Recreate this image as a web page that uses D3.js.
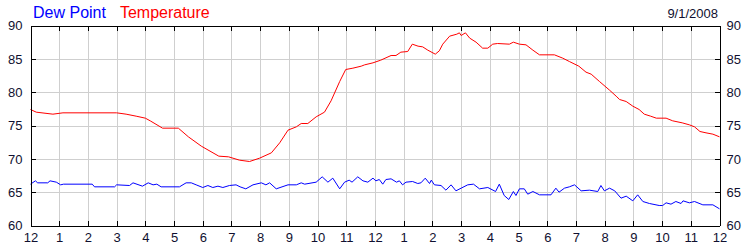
<!DOCTYPE html>
<html>
<head>
<meta charset="utf-8">
<script src="https://cdn.jsdelivr.net/npm/d3@7"></script>
<style>
  html, body { margin: 0; padding: 0; background: #fff; }
  svg { display: block; font-family: "Liberation Sans", Arial, sans-serif; }
  .grid line { stroke: #cfcfcf; shape-rendering: crispEdges; }
  .grid path { display: none; }
  .axis path, .axis line { stroke: #000; shape-rendering: crispEdges; }
  .axis text { fill: #101030; font-size: 13px; }
</style>
</head>
<body>
<div id="chart"></div>
<script>
(function () {
  const width = 750;
  const height = 250;

  const seriesNames = ["Dew Point", "Temperature"];
  const seriesColors = ["#0000ff", "#ff0000"];
  const dateLabel = "9/1/2008";

  const hourTicks = d3.range(0, 25);
  const hourLabels = ["12", "1", "2", "3", "4", "5", "6", "7", "8", "9", "10", "11",
    "12", "1", "2", "3", "4", "5", "6", "7", "8", "9", "10", "11", "12"];
  const valueTicks = [60, 65, 70, 75, 80, 85, 90];

  // hours since midnight
  const tempHours = [0, 0.2, 0.78, 1.13, 3.0, 3.33, 3.68, 4.0, 4.17, 4.6, 5.15, 5.5, 5.95, 6.56, 6.9,
    7.28, 7.63, 7.98, 8.39, 8.68, 8.97, 9.26, 9.43, 9.66, 9.95, 10.24, 10.47, 10.77, 10.98, 11.23,
    11.52, 11.64, 11.93, 12.2, 12.56, 12.73, 12.9, 13.14, 13.3, 13.5, 13.66, 13.84, 14.1, 14.24,
    14.36, 14.6, 14.85, 14.94, 15.0, 15.15, 15.3, 15.52, 15.75, 15.93, 16.1, 16.27, 16.68, 16.82,
    17.03, 17.26, 17.5, 17.73, 18.25, 18.54, 18.77, 19.1, 19.35, 19.53, 19.82, 20.17, 20.4, 20.52,
    20.75, 20.98, 21.2, 21.38, 21.6, 21.8, 22.14, 22.37, 22.7, 22.95, 23.13, 23.32, 23.53, 23.77, 24];
  const tempValues = [77.4, 77.0, 76.7, 76.9, 76.9, 76.7, 76.4, 76.1, 75.7, 74.6, 74.6, 73.3, 71.9, 70.4, 70.3,
    69.8, 69.6, 70.1, 70.9, 72.4, 74.3, 74.8, 75.3, 75.3, 76.3, 77.0, 78.7, 81.6, 83.4, 83.6,
    83.9, 84.1, 84.4, 84.8, 85.5, 85.5, 86.0, 86.1, 87.2, 86.9, 86.8, 86.3, 85.7, 86.2,
    87.2, 88.4, 88.7, 88.9, 88.5, 88.9, 88.1, 87.5, 86.6, 86.6, 87.2, 87.3, 87.2, 87.5,
    87.2, 87.1, 86.3, 85.6, 85.6, 85.1, 84.6, 83.9, 83.0, 82.7, 81.6, 80.3, 79.4, 78.9,
    78.6, 77.9, 77.4, 76.7, 76.4, 76.1, 76.1, 75.7, 75.4, 75.1, 74.8, 74.1, 73.9, 73.7, 73.3];

  const dewHours = [0, 0.17, 0.25, 0.6, 0.68, 0.9, 1.05, 1.15, 2.15, 2.23, 2.93, 3.0, 3.45, 3.57, 3.9,
    4.1, 4.27, 4.4, 4.55, 5.19, 5.42, 5.6, 5.77, 6.0, 6.18, 6.35, 6.53, 6.7, 6.93, 7.16, 7.3, 7.5,
    7.75, 8.04, 8.2, 8.33, 8.56, 8.97, 9.26, 9.43, 9.55, 9.95, 10.16, 10.36, 10.53, 10.77, 10.94,
    11.1, 11.2, 11.4, 11.58, 11.75, 11.93, 12.03, 12.15, 12.27, 12.38, 12.56, 12.75, 12.85, 12.96,
    13.08, 13.31, 13.49, 13.6, 13.75, 13.9, 13.96, 14.07, 14.3, 14.47, 14.65, 14.82, 15.0, 15.23,
    15.43, 15.64, 15.93, 16.2, 16.33, 16.5, 16.66, 16.82, 16.91, 17.03, 17.2, 17.32, 17.5, 17.73,
    18.13, 18.3, 18.41, 18.6, 18.77, 18.95, 19.18, 19.47, 19.76, 19.87, 19.99, 20.17, 20.35, 20.57,
    20.75, 20.98, 21.15, 21.33, 21.56, 21.9, 22.02, 22.14, 22.31, 22.48, 22.66, 22.73, 22.95, 23.13,
    23.42, 23.77, 24];
  const dewValues = [66.2, 66.7, 66.4, 66.4, 66.7, 66.5, 66.1, 66.2, 66.2, 65.8, 65.8, 66.1, 66.0, 66.4, 65.9,
    66.4, 66.1, 66.2, 65.8, 65.8, 66.4, 66.4, 66.1, 65.7, 66.0, 65.7, 65.9, 65.7, 66.0, 66.1, 65.8, 65.5,
    66.1, 66.4, 66.1, 66.4, 65.5, 66.1, 66.1, 66.4, 66.2, 66.5, 67.3, 66.5, 67.1, 65.5, 66.5,
    66.8, 66.5, 67.3, 66.7, 66.5, 67.1, 66.7, 66.9, 66.2, 66.9, 67.0, 66.5, 66.7, 66.1,
    66.5, 66.6, 66.3, 66.4, 67.1, 66.3, 66.8, 66.1, 66.0, 65.3, 66.1, 65.2, 65.6, 66.1,
    66.2, 65.5, 65.7, 65.1, 66.2, 64.5, 63.9, 65.1, 64.5, 65.5, 65.5, 64.7, 65.1, 64.6,
    64.6, 65.6, 65.0, 65.6, 65.8, 66.1, 65.2, 65.3, 65.1, 66.0, 65.2, 65.6, 65.2, 64.1,
    64.4, 63.7, 64.6, 63.6, 63.3, 63.0, 63.0, 63.4, 63.2, 63.6, 63.3, 63.7, 63.4, 63.6,
    63.1, 63.1, 62.5];

  const x = d3.scaleLinear().domain([0, 24]).range([30.5, 719.5]);
  const y = d3.scaleLinear().domain([60, 90]).range([225.5, 25.5]);

  const svg = d3.select("#chart")
    .append("svg")
    .attr("width", width)
    .attr("height", height);

  // grid
  svg.append("g")
    .attr("class", "grid")
    .attr("transform", `translate(0, ${y(60)})`)
    .call(d3.axisBottom(x).tickValues(hourTicks).tickSize(-(y(60) - y(90))).tickFormat(""));

  svg.append("g")
    .attr("class", "grid")
    .attr("transform", `translate(${x(0)}, 0)`)
    .call(d3.axisLeft(y).tickValues(valueTicks).tickSize(-(x(24) - x(0))).tickFormat(""));

  // lines
  const line = d3.line()
    .x((d) => x(d[0]))
    .y((d) => y(d[1]));

  const dewPoints = dewHours.map((h, i) => [h, dewValues[i]]);
  const tempPoints = tempHours.map((h, i) => [h, tempValues[i]]);

  [dewPoints, tempPoints].forEach((points, i) => {
    svg.append("path")
      .datum(points)
      .attr("fill", "none")
      .attr("stroke", seriesColors[i])
      .attr("stroke-width", 1)
      .attr("d", line);
  });

  // frame axes, ticks pointing inward
  const hourFormat = (d) => hourLabels[d];

  svg.append("g")
    .attr("class", "axis")
    .attr("transform", `translate(0, ${y(60)})`)
    .call(d3.axisBottom(x).tickValues(hourTicks).tickFormat(hourFormat).tickSizeInner(-5).tickSizeOuter(0).tickPadding(7));

  svg.append("g")
    .attr("class", "axis")
    .attr("transform", `translate(0, ${y(90)})`)
    .call(d3.axisTop(x).tickValues(hourTicks).tickFormat("").tickSizeInner(-5).tickSizeOuter(0));

  svg.append("g")
    .attr("class", "axis")
    .attr("transform", `translate(${x(0)}, 0)`)
    .call(d3.axisLeft(y).tickValues(valueTicks).tickSizeInner(-5).tickSizeOuter(0).tickPadding(8));

  svg.append("g")
    .attr("class", "axis")
    .attr("transform", `translate(${x(24)}, 0)`)
    .call(d3.axisRight(y).tickValues(valueTicks).tickSizeInner(-5).tickSizeOuter(0).tickPadding(7));

  // legend and date
  const legend = svg.append("text")
    .attr("x", 33)
    .attr("y", 18)
    .attr("font-size", 16);

  seriesNames.forEach((name, i) => {
    legend.append("tspan")
      .attr("dx", i === 0 ? 0 : 14)
      .attr("fill", seriesColors[i])
      .text(name);
  });

  svg.append("text")
    .attr("x", 718)
    .attr("y", 18)
    .attr("text-anchor", "end")
    .attr("font-size", 13)
    .attr("fill", "#101030")
    .text(dateLabel);
}());
</script>
</body>
</html>
